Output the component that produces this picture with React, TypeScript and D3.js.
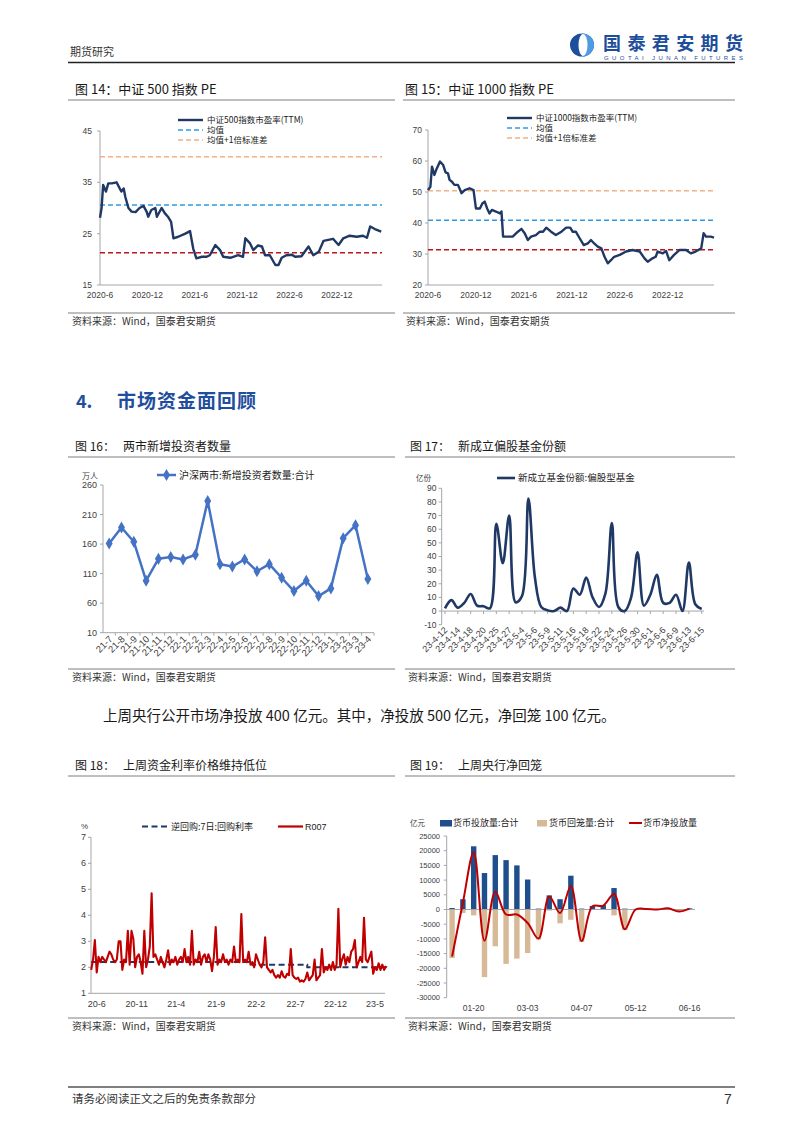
import * as d3 from "d3";

const CN = '"Noto Sans CJK SC", "Noto Sans", sans-serif';
const NUM = '"Liberation Sans", Arial, sans-serif';
const AXIS = "#a6a6a6";
const INK = "#404040";
const NAVY = "#1f3864";
const BRAND = "#1d4e9b";

// ---- 图14 / 图15 : PE (x = months since 2020-06) ----
const peTickMonths = [0, 6, 12, 18, 24, 30];
const peTickLabels = ["2020-6", "2020-12", "2021-6", "2021-12", "2022-6", "2022-12"];

const pe500Months = [0, 0.2, 0.4, 0.75, 1.05, 1.5, 2.1, 2.5, 2.7, 3, 3.2, 3.6, 4, 4.5, 5, 5.5, 5.9, 6.1, 6.5, 7, 7.2, 7.8, 8.2, 8.6, 9, 9.3, 9.9, 10.8, 11.4, 11.8, 12.2, 12.9, 13.5, 13.9, 14.6, 15.2, 15.6, 16.5, 17.5, 18.1, 18.4, 19, 19.4, 20, 20.5, 20.9, 21.5, 22.2, 22.6, 23, 23.6, 24.3, 24.7, 25.5, 26.4, 27, 27.7, 28.3, 28.9, 29.5, 30.2, 30.8, 31.6, 32.5, 33.3, 33.8, 34.2, 34.8, 35.6];
const pe500Values = [28.1, 30, 34.5, 33.2, 34.8, 34.8, 35, 33.8, 33.2, 33.8, 32.2, 30, 29.3, 29.2, 30, 30.4, 29.3, 28.3, 29.6, 30, 28.3, 30, 29, 28.3, 27.3, 24.1, 24.4, 25, 25.5, 22.1, 20.2, 20.5, 20.5, 20.8, 22.8, 21.8, 20.5, 20.3, 20.8, 20.5, 24.1, 23.1, 21.8, 22.7, 22.5, 20.8, 20.8, 18.9, 18.9, 20.3, 20.8, 20.9, 20.5, 20.6, 22.5, 20.8, 21.5, 23.6, 23.8, 24, 22.8, 24.1, 24.6, 24.4, 24.6, 24.2, 26.4, 25.9, 25.4];
const pe500Ticks = [15, 25, 35, 45];
const pe500Refs = [40, 30.6, 21.3]; // 均值+1倍标准差, 均值, 均值-1倍标准差

const pe1000Months = [0, 0.3, 0.5, 0.8, 1.1, 1.5, 1.9, 2.2, 2.5, 2.7, 3, 3.3, 3.75, 4.2, 4.6, 5.2, 5.7, 6, 6.5, 6.8, 7.1, 7.4, 7.7, 8, 8.5, 9, 9.2, 9.4, 10, 10.6, 11.25, 11.7, 12.1, 12.5, 12.9, 13.5, 14, 14.4, 14.8, 15.4, 16, 16.7, 17.3, 17.8, 18.1, 18.5, 19, 19.5, 20, 20.4, 20.8, 21.25, 21.7, 22.1, 22.5, 22.9, 23.3, 24, 24.8, 25.6, 26.5, 27.1, 27.5, 28.1, 28.5, 28.75, 29.4, 29.8, 30.2, 30.8, 31.5, 32.3, 32.9, 33.5, 34.2, 34.5, 34.8, 35.4, 35.8];
const pe1000Values = [50.6, 51.7, 58.2, 55.5, 57.6, 59.8, 58.7, 56.3, 56, 53.9, 53.3, 52.3, 52.3, 49.6, 50.6, 51.2, 50.6, 44.7, 44.7, 46.3, 46.9, 44.7, 43.1, 44.2, 43.7, 43.1, 43.7, 35.6, 35.6, 35.6, 37.2, 38.1, 36.7, 34.5, 35.6, 36.1, 37.2, 37.2, 38.5, 37.2, 36.1, 37.2, 38.5, 38.5, 37.2, 37.2, 35, 32.9, 33.4, 34.5, 33.4, 32.4, 31.8, 29.1, 27, 28, 29.1, 29.7, 30.8, 31.3, 30.8, 28.6, 27.5, 28.6, 29.1, 30.8, 30.2, 31, 28, 29.7, 31.3, 31.3, 30.2, 30.8, 31.8, 36.7, 35.6, 35.6, 35.3];
const pe1000Ticks = [20, 30, 40, 50, 60, 70];
const pe1000Refs = [50.4, 40.9, 31.4];

// ---- 图16 ----
const investMonths = ["21-7", "21-8", "21-9", "21-10", "21-11", "21-12", "22-1", "22-2", "22-3", "22-4", "22-5", "22-6", "22-7", "22-8", "22-9", "22-10", "22-11", "22-12", "23-1", "23-2", "23-3", "23-4"];
const investValues = [161, 188, 164, 98, 135, 138, 134, 142, 233, 126, 122, 134, 114, 126, 103, 80.5, 98, 72, 85, 170, 192, 101];
const investTicks = [10, 60, 110, 160, 210, 260];

// ---- 图17 ----
const fundDates = ["23-4-12", "23-4-13", "23-4-14", "23-4-17", "23-4-18", "23-4-19", "23-4-20", "23-4-24", "23-4-25", "23-4-26", "23-4-27", "23-4-28", "23-5-4", "23-5-5", "23-5-6", "23-5-8", "23-5-9", "23-5-10", "23-5-11", "23-5-15", "23-5-16", "23-5-17", "23-5-18", "23-5-19", "23-5-22", "23-5-23", "23-5-24", "23-5-25", "23-5-26", "23-5-29", "23-5-30", "23-5-31", "23-6-1", "23-6-2", "23-6-6", "23-6-7", "23-6-9", "23-6-12", "23-6-13", "23-6-14", "23-6-15"];
const fundValues = [2, 8, 2.5, 6, 12.5, 4, 3.5, 2, 64, 35, 70, 6.5, 11, 82.5, 25, 3, 0.5, 0, 2.5, 0, 16.5, 12, 24.5, 10, 3, 13, 64.5, 3, 0, 10, 43, 4, 12, 26.5, 6, 6, 12, 0, 35.5, 5, 1.5];
const fundTicks = [-10, 0, 10, 20, 30, 40, 50, 60, 70, 80, 90];

// ---- 图18 (weekly from 2020-05-11) ----
const r007Start = "2020-05-11";
const r007Values = [
  1.9, 2.3, 3.05, 1.8, 2.4, 2.2, 2.4, 2.3, 2.2, 2.4,
  2.6, 2.5, 2.3, 2.2, 2.3, 3.0, 3.0, 1.9, 2.3, 2.2,
  3.4, 2.1, 3.4, 3.1, 2.0, 2.4, 2.5, 2.2, 1.75, 3.4,
  2.0, 2.3, 2.8, 4.85, 2.4, 2.5, 2.3, 2.1, 2.4, 2.2,
  2.0, 2.3, 2.65, 2.1, 2.3, 2.2, 2.4, 2.1, 2.3, 2.4,
  2.2, 2.7, 2.2, 2.4, 2.1, 3.4, 2.1, 2.3, 2.2, 2.6,
  2.1, 2.4, 2.5, 2.2, 2.5, 2.3, 1.85, 2.4, 3.55, 2.1,
  2.3, 2.2, 2.5, 2.2, 2.3, 2.1, 2.3, 2.2, 2.8, 2.2,
  2.3, 2.2, 4.05, 2.2, 2.3, 2.2, 2.6, 2.1, 2.2, 2.0,
  2.5, 2.3, 2.1, 2.0, 2.2, 3.15, 2.0, 1.9, 1.8, 1.9,
  1.7, 1.6, 1.7, 1.6, 1.85, 1.65, 1.6, 1.75, 1.7, 2.7,
  1.7, 1.6, 1.55, 1.6, 1.45, 1.5, 1.45, 1.55, 1.8, 1.5,
  1.6, 1.7, 2.3, 1.5, 1.6, 1.7, 2.7, 1.8, 2.0, 1.9,
  2.1, 1.9, 2.2, 1.9, 2.1, 4.25, 2.0, 2.3, 2.5, 2.1,
  2.4, 2.2, 2.6, 2.7, 3.05, 2.0, 2.2, 2.4, 2.2, 3.9,
  2.3, 2.2, 2.4, 2.6, 1.75, 2.0, 1.9, 2.15, 1.9, 2.1,
  1.9, 2.05,
];
const repoDates = ["2020-05-11", "2022-01-17", "2022-08-15", "2023-06-13", "2023-06-16"];
const repoValues = [2.2, 2.1, 2.0, 1.9, 1.9];
const rateTickDates = ["2020-06-01", "2020-11-01", "2021-04-01", "2021-09-01", "2022-02-01", "2022-07-01", "2022-12-01", "2023-05-01"];
const rateTickLabels = ["20-6", "20-11", "21-4", "21-9", "22-2", "22-7", "22-12", "23-5"];
const rateTicks = [1, 2, 3, 4, 5, 6, 7];

// ---- 图19 ----
const omoWeeks = ["01-06", "01-13", "01-20", "02-03", "02-10", "02-17", "02-24", "03-03", "03-10", "03-17", "03-24", "03-31", "04-07", "04-14", "04-21", "04-28", "05-05", "05-12", "05-19", "05-26", "06-02", "06-09", "06-16"];
const omoInject = [500, 3500, 21500, 12400, 18500, 16800, 15000, 10200, 300, 4800, 3500, 11500, 300, 1200, 1500, 7300, 300, 200, 300, 200, 500, 100, 400];
const omoWithdraw = [-16500, -1200, -2000, -23000, -12500, -18500, -16700, -14800, -10200, -400, -4700, -3500, -11000, -100, -200, -2000, -7000, -200, -100, -200, -100, -800, -100];
const omoLabelWeeks = ["01-20", "03-03", "04-07", "05-12", "06-16"];
const omoTicks = [-30000, -25000, -20000, -15000, -10000, -5000, 0, 5000, 10000, 15000, 20000, 25000];

const SOURCE = "资料来源：Wind，国泰君安期货";

function PEChart(p: {
  left: number; right: number; top: number; bottom: number; maxMonth: number;
  yDomain: [number, number]; ticks: number[]; labelX: number;
  months: number[]; values: number[]; refs: number[];
  name: string; legendX: number; legendY: number;
}) {
  const x = d3.scaleLinear().domain([0, p.maxMonth]).range([p.left, p.right]);
  const y = d3.scaleLinear().domain(p.yDomain).range([p.bottom, p.top]);
  const line = d3.line<number>().x((_, i) => x(p.months[i])).y((d) => y(d));
  const refColors = ["#f4b183", "#2f9be0", "#c0121b"];
  const legend = [
    { label: p.name, color: NAVY, dash: "none", w: 2.4 },
    { label: "均值", color: "#2f9be0", dash: "5,3", w: 1.5 },
    { label: "均值+1倍标准差", color: "#f4b183", dash: "5,3", w: 1.5 },
  ];
  return (
    <g>
      <line x1={p.left} x2={p.left} y1={p.top} y2={p.bottom} stroke={AXIS} />
      <line x1={p.left} x2={p.right} y1={p.bottom} y2={p.bottom} stroke={AXIS} />
      {p.ticks.map((t) => (
        <g key={t}>
          <line x1={p.left - 3} x2={p.left} y1={y(t)} y2={y(t)} stroke={AXIS} />
          <text x={p.labelX} y={y(t)} dy="0.35em" textAnchor="end" fontSize={8.5} fontFamily={NUM} fill={INK}>{t}</text>
        </g>
      ))}
      {peTickMonths.map((m, i) => (
        <text key={m} x={x(m)} y={p.bottom + 13} textAnchor="middle" fontSize={8.5} fontFamily={NUM} fill={INK}>{peTickLabels[i]}</text>
      ))}
      {p.refs.map((r, i) => (
        <line key={i} x1={p.left} x2={p.right} y1={y(r)} y2={y(r)} stroke={refColors[i]} strokeWidth={1.5} strokeDasharray="5,3" />
      ))}
      <path d={line(p.values) || ""} fill="none" stroke={NAVY} strokeWidth={2.4} strokeLinejoin="round" />
      {legend.map((l, i) => (
        <g key={i} transform={`translate(${p.legendX},${p.legendY + i * 10})`}>
          <line x1={0} x2={25} y1={0} y2={0} stroke={l.color} strokeWidth={l.w} strokeDasharray={l.dash} />
          <text x={29} y={0} dy="0.35em" fontSize={8.5} fontFamily={CN} fill="#222">{l.label}</text>
        </g>
      ))}
    </g>
  );
}

function InvestorChart() {
  const left = 103, right = 374, top = 485, bottom = 632.7;
  const x = d3.scaleBand().domain(investMonths).range([left, right]);
  const y = d3.scaleLinear().domain([10, 260]).range([bottom, top]);
  const cx = (c: string) => (x(c) ?? 0) + x.bandwidth() / 2;
  const line = d3.line<number>().x((_, i) => cx(investMonths[i])).y((d) => y(d));
  const diamond = d3.symbol(d3.symbolDiamond, 42)() || "";
  const color = "#4472c4";
  return (
    <g>
      <line x1={left} x2={left} y1={top} y2={bottom} stroke={AXIS} />
      <line x1={left} x2={right} y1={bottom} y2={bottom} stroke={AXIS} />
      {investTicks.map((t) => (
        <g key={t}>
          <line x1={left - 3} x2={left} y1={y(t)} y2={y(t)} stroke={AXIS} />
          <text x={97} y={y(t)} dy="0.35em" textAnchor="end" fontSize={9} fontFamily={NUM} fill={INK}>{t}</text>
        </g>
      ))}
      {investMonths.map((c) => (
        <g key={c}>
          <line x1={(x(c) ?? 0) + x.bandwidth()} x2={(x(c) ?? 0) + x.bandwidth()} y1={bottom} y2={bottom + 3} stroke={AXIS} />
          <text transform={`translate(${cx(c) + 4},${bottom + 7}) rotate(-45)`} textAnchor="end" fontSize={9.5} fontFamily={NUM} fill={INK}>{c}</text>
        </g>
      ))}
      <path d={line(investValues) || ""} fill="none" stroke={color} strokeWidth={2.5} strokeLinejoin="round" />
      {investValues.map((v, i) => (
        <path key={i} d={diamond} transform={`translate(${cx(investMonths[i])},${y(v)})`} fill={color} />
      ))}
      <text x={82} y={476} dy="0.35em" fontSize={8} fontFamily={CN} fill={INK}>万人</text>
      <line x1={157} x2={176} y1={475} y2={475} stroke={color} strokeWidth={2.5} />
      <path d={diamond} transform="translate(166.5,475)" fill={color} />
      <text x={179} y={475} dy="0.35em" fontSize={10} fontFamily={CN} fill="#222">沪深两市:新增投资者数量:合计</text>
    </g>
  );
}

function FundChart() {
  const left = 441.7, top = 488.3, bottom = 624.7;
  const x = d3.scalePoint().domain(fundDates).range([445, 701.7]);
  const y = d3.scaleLinear().domain([-10, 90]).range([bottom, top]);
  const line = d3.line<number>().x((_, i) => x(fundDates[i]) ?? 0).y((d) => y(d)).curve(d3.curveCatmullRom.alpha(0.5));
  return (
    <g>
      <line x1={left} x2={left} y1={top} y2={bottom} stroke={AXIS} />
      <line x1={left} x2={704} y1={y(0)} y2={y(0)} stroke={AXIS} />
      {fundTicks.map((t) => (
        <g key={t}>
          <line x1={left - 3} x2={left} y1={y(t)} y2={y(t)} stroke={AXIS} />
          <text x={436.5} y={y(t)} dy="0.35em" textAnchor="end" fontSize={8.5} fontFamily={NUM} fill={INK}>{t}</text>
        </g>
      ))}
      {fundDates.filter((_, i) => i % 2 === 0).map((d) => (
        <g key={d}>
          <line x1={x(d) ?? 0} x2={x(d) ?? 0} y1={y(0)} y2={y(0) + 3} stroke={AXIS} />
          <text transform={`translate(${(x(d) ?? 0) + 3},${bottom + 6}) rotate(-45)`} textAnchor="end" fontSize={9} fontFamily={NUM} fill={INK}>{d}</text>
        </g>
      ))}
      <path d={line(fundValues) || ""} fill="none" stroke={NAVY} strokeWidth={2.6} strokeLinejoin="round" />
      <text x={416} y={478} dy="0.35em" fontSize={7.5} fontFamily={CN} fill={INK}>亿份</text>
      <line x1={497} x2={515} y1={478} y2={478} stroke={NAVY} strokeWidth={2.6} />
      <text x={518} y={478} dy="0.35em" fontSize={9.5} fontFamily={CN} fill="#222">新成立基金份额:偏股型基金</text>
    </g>
  );
}

function RateChart() {
  const left = 91, right = 385, top = 837.3, bottom = 993.3;
  const x = d3.scaleTime()
    .domain([new Date(rateTickDates[0]), new Date(rateTickDates[rateTickDates.length - 1])])
    .range([96.7, 375]);
  const y = d3.scaleLinear().domain([1, 7]).range([bottom, top]);
  const start = new Date(r007Start);
  const r007Dates = r007Values.map((_, i) => d3.timeDay.offset(start, i * 7));
  const r007Line = d3.line<number>().x((_, i) => x(r007Dates[i])).y((d) => y(d));
  const repoLine = d3.line<number>().x((_, i) => x(new Date(repoDates[i]))).y((d) => y(d)).curve(d3.curveStepAfter);
  const red = "#c00000";
  return (
    <g>
      <line x1={left} x2={left} y1={top} y2={bottom} stroke={AXIS} />
      <line x1={left} x2={right} y1={bottom} y2={bottom} stroke={AXIS} />
      {rateTicks.map((t) => (
        <g key={t}>
          <line x1={left - 3} x2={left} y1={y(t)} y2={y(t)} stroke={AXIS} />
          <text x={86} y={y(t)} dy="0.35em" textAnchor="end" fontSize={9} fontFamily={NUM} fill={INK}>{t}</text>
        </g>
      ))}
      {rateTickDates.map((d, i) => (
        <text key={d} x={x(new Date(d))} y={bottom + 14} textAnchor="middle" fontSize={9} fontFamily={NUM} fill={INK}>{rateTickLabels[i]}</text>
      ))}
      <path d={repoLine(repoValues) || ""} fill="none" stroke={NAVY} strokeWidth={2} strokeDasharray="6,3.5" />
      <path d={r007Line(r007Values) || ""} fill="none" stroke={red} strokeWidth={2.1} strokeLinejoin="round" />
      <text x={81} y={826} dy="0.35em" fontSize={8} fontFamily={NUM} fill={INK}>%</text>
      <line x1={142} x2={167} y1={826.5} y2={826.5} stroke={NAVY} strokeWidth={2.2} strokeDasharray="6,3.5" />
      <text x={171} y={826.5} dy="0.35em" fontSize={9} fontFamily={CN} fill="#222">逆回购:7日:回购利率</text>
      <line x1={278} x2={303} y1={826.5} y2={826.5} stroke={red} strokeWidth={2.2} />
      <text x={305} y={826.5} dy="0.35em" fontSize={9} fontFamily={NUM} fill="#222">R007</text>
    </g>
  );
}

function OmoChart() {
  const left = 446.7, right = 695, top = 836, bottom = 997.7;
  const x = d3.scaleBand().domain(omoWeeks).range([left, right]).paddingInner(0.5).paddingOuter(0.25);
  const y = d3.scaleLinear().domain([-30000, 25000]).range([bottom, top]);
  const net = omoInject.map((v, i) => v + omoWithdraw[i]);
  const cx = (c: string) => (x(c) ?? 0) + x.bandwidth() / 2;
  const line = d3.line<number>().x((_, i) => cx(omoWeeks[i])).y((d) => y(d)).curve(d3.curveCatmullRom.alpha(0.5));
  const blue = "#1f4e8c", tan = "#d6b996", red = "#c00000";
  return (
    <g>
      <line x1={left} x2={left} y1={top} y2={bottom} stroke={AXIS} />
      {omoTicks.map((t) => (
        <g key={t}>
          <line x1={left - 3} x2={left} y1={y(t)} y2={y(t)} stroke={AXIS} />
          <text x={440} y={y(t)} dy="0.35em" textAnchor="end" fontSize={7.5} fontFamily={NUM} fill={INK}>{t}</text>
        </g>
      ))}
      {omoWeeks.map((c, i) => (
        <g key={c}>
          <rect x={x(c)} width={x.bandwidth()} y={y(omoInject[i])} height={y(0) - y(omoInject[i])} fill={blue} />
          <rect x={x(c)} width={x.bandwidth()} y={y(0)} height={y(omoWithdraw[i]) - y(0)} fill={tan} />
        </g>
      ))}
      <line x1={left} x2={right} y1={y(0)} y2={y(0)} stroke={AXIS} />
      <path d={line(net) || ""} fill="none" stroke={red} strokeWidth={2} strokeLinejoin="round" />
      {omoLabelWeeks.map((c) => (
        <text key={c} x={cx(c)} y={bottom + 13} textAnchor="middle" fontSize={8.5} fontFamily={NUM} fill={INK}>{c}</text>
      ))}
      <text x={410} y={823} dy="0.35em" fontSize={7.5} fontFamily={CN} fill={INK}>亿元</text>
      <rect x={440} y={820} width={12} height={6.5} fill={blue} />
      <text x={453} y={823} dy="0.35em" fontSize={9} fontFamily={CN} fill="#222">货币投放量:合计</text>
      <rect x={537} y={820} width={10} height={6.5} fill={tan} />
      <text x={549} y={823} dy="0.35em" fontSize={9} fontFamily={CN} fill="#222">货币回笼量:合计</text>
      <line x1={629} x2={642} y1={823} y2={823} stroke={red} strokeWidth={2} />
      <text x={643} y={823} dy="0.35em" fontSize={9} fontFamily={CN} fill="#222">货币净投放量</text>
    </g>
  );
}

function Title({ x, y, lx1, lx2, text, size = 12 }: { x: number; y: number; lx1: number; lx2: number; text: string; size?: number }) {
  return (
    <g>
      <text x={x} y={y} fontSize={size} fontFamily={CN} fill="#1a1a1a" xmlSpace="preserve" style={{ whiteSpace: "pre" }}>{text}</text>
      <line x1={lx1} x2={lx2} y1={y + 6} y2={y + 6} stroke="#7f7f7f" strokeWidth={1} />
    </g>
  );
}

function Source({ x, y, lx1, lx2 }: { x: number; y: number; lx1: number; lx2: number }) {
  return (
    <g>
      <line x1={lx1} x2={lx2} y1={y - 12} y2={y - 12} stroke="#7f7f7f" strokeWidth={1} />
      <text x={x} y={y} fontSize={10} fontFamily={CN} fill="#333">{SOURCE}</text>
    </g>
  );
}

export default function App() {
  return (
    <svg width={802} height={1134} style={{ position: "absolute", left: 0, top: 0, background: "#fff" }}>
      {/* header */}
      <text x={70} y={56} fontSize={11} fontFamily={CN} fill="#333">期货研究</text>
      <g>
        <defs>
          <clipPath id="logoRight"><rect x={582} y={30} width={20} height={30} /></clipPath>
        </defs>
        <ellipse cx={582} cy={45} rx={12} ry={11.5} fill={BRAND} />
        <ellipse cx={582} cy={45} rx={12} ry={11.5} fill="#4d9be0" clipPath="url(#logoRight)" />
        <ellipse cx={583} cy={45} rx={4.5} ry={11} fill="#fff" />
      </g>
      <text x={603} y={50} fontSize={18} fontWeight="bold" fontFamily={CN} fill={BRAND} textLength={140}>国泰君安期货</text>
      <text x={604} y={60} fontSize={6} fontFamily={NUM} fill={BRAND} textLength={139}>GUOTAI JUNAN FUTURES</text>
      <line x1={68} x2={735} y1={62.5} y2={62.5} stroke="#222" strokeWidth={1.3} />

      {/* 图14 / 图15 */}
      <Title x={75} y={94} lx1={68} lx2={395} text="图 14：中证 500 指数 PE" size={13} />
      <Title x={405} y={94} lx1={403} lx2={735} text="图 15：中证 1000 指数 PE" size={13} />
      <PEChart left={100} right={382} top={131} bottom={285} maxMonth={35.7} yDomain={[15, 45]} ticks={pe500Ticks} labelX={92}
        months={pe500Months} values={pe500Values} refs={pe500Refs} name="中证500指数市盈率(TTM)" legendX={178} legendY={120} />
      <PEChart left={428} right={714} top={130} bottom={285} maxMonth={35.8} yDomain={[20, 70]} ticks={pe1000Ticks} labelX={422}
        months={pe1000Months} values={pe1000Values} refs={pe1000Refs} name="中证1000指数市盈率(TTM)" legendX={507} legendY={118} />
      <Source x={72} y={325} lx1={68} lx2={395} />
      <Source x={406} y={325} lx1={403} lx2={735} />

      {/* section */}
      <text x={76} y={408} fontSize={18} fontWeight="bold" fontFamily={CN} fill="#1f4e9c">4.</text>
      <text x={117} y={408} fontSize={19} fontWeight="bold" fontFamily={CN} fill="#1f4e9c" letterSpacing={1}>市场资金面回顾</text>

      {/* 图16 / 图17 */}
      <Title x={75} y={451} lx1={68} lx2={395} text="图 16：   两市新增投资者数量" />
      <Title x={410} y={451} lx1={405} lx2={735} text="图 17：   新成立偏股基金份额" />
      <InvestorChart />
      <FundChart />
      <Source x={72} y={681} lx1={68} lx2={395} />
      <Source x={408} y={681} lx1={405} lx2={735} />

      <text x={103} y={721} fontSize={14.5} fontFamily={CN} fill="#1a1a1a">上周央行公开市场净投放 400 亿元。其中，净投放 500 亿元，净回笼 100 亿元。</text>

      {/* 图18 / 图19 */}
      <Title x={75} y={770} lx1={68} lx2={395} text="图 18：   上周资金利率价格维持低位" />
      <Title x={410} y={770} lx1={405} lx2={735} text="图 19：   上周央行净回笼" />
      <RateChart />
      <OmoChart />
      <Source x={72} y={1030} lx1={68} lx2={395} />
      <Source x={408} y={1030} lx1={405} lx2={735} />

      {/* footer */}
      <line x1={68} x2={735} y1={1087} y2={1087} stroke="#555" strokeWidth={1.5} />
      <text x={72} y={1103} fontSize={11.5} fontFamily={CN} fill="#333">请务必阅读正文之后的免责条款部分</text>
      <text x={724} y={1104} fontSize={14} fontFamily={NUM} fill="#333">7</text>
    </svg>
  );
}
